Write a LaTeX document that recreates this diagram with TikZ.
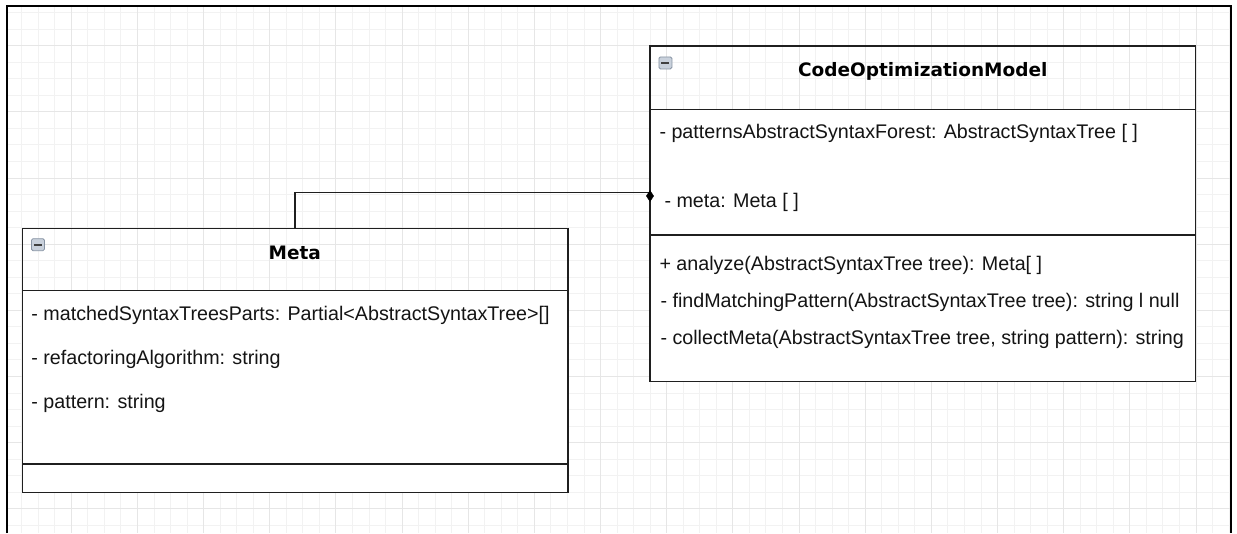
\documentclass[tikz,border=0pt]{standalone}
\usepackage{fontspec}
\setmainfont{Liberation Sans}
\newfontfamily\titlefont{DejaVu Sans}
\usetikzlibrary{shapes.geometric}
\definecolor{gridminor}{HTML}{F2F2F2}
\definecolor{gridmajor}{HTML}{E6E6E6}
\definecolor{boxline}{HTML}{1F1F1F}
\definecolor{txt}{HTML}{141414}
\definecolor{iconfill}{HTML}{C9D1DC}
\definecolor{iconline}{HTML}{8793A3}
\begin{document}
\begin{tikzpicture}[x=1pt,y=-1pt,
  section/.style={draw=boxline, line width=1.5pt, inner sep=0pt, outer sep=0pt, anchor=north west, minimum width=545.5pt},
  attr/.style={anchor=base west, inner sep=0pt, text=txt, font=\fontsize{19.7}{24}\selectfont},
  classtitle/.style={anchor=base, inner sep=0pt, text=black, font=\titlefont\bfseries\fontsize{18.5}{22}\selectfont},
  iconbox/.style={draw=iconline, fill=iconfill, line width=0.8pt, rounded corners=1.5pt, minimum width=13pt, minimum height=12pt, inner sep=0pt, anchor=north west},
  conn/.style={draw=boxline, line width=1.5pt},
  endmark/.style={diamond, fill=black, draw=black, inner sep=0pt, minimum width=7.5pt, minimum height=11pt}]
\useasboundingbox (0,0) rectangle (1237,533);
\fill[white] (0,0) rectangle (1237,533);
% grid
\foreach \i in {-3,...,70} {
  \draw[gridminor, line width=1pt] ({71.3+16.54*\i},6) -- ({71.3+16.54*\i},533);
}
\foreach \i in {-2,...,29} {
  \draw[gridminor, line width=1pt] (7,{45.7+16.54*\i}) -- (1231,{45.7+16.54*\i});
}
\foreach \i in {0,...,17} {
  \draw[gridmajor, line width=1pt] ({71.3+66.16*\i},6) -- ({71.3+66.16*\i},533);
}
\foreach \i in {0,...,7} {
  \draw[gridmajor, line width=1pt] (7,{45.7+66.16*\i}) -- (1231,{45.7+66.16*\i});
}
% frame
\draw[black, line width=2pt] (7,533) -- (7,5.7) -- (1231,5.7) -- (1231,533);

% Meta class
\node[section, minimum height=62.4pt] (metahead) at (22.3,228.3) {};
\node[section, fill=white, minimum height=173.3pt] (metaattr) at (22.3,290.7) {};
\node[section, fill=white, minimum height=28.7pt] (metaops) at (22.3,464) {};
\node[iconbox] (metaicon) at (31,238.3) {};
\draw[black!75, line width=1.6pt] (metaicon.center) +(-4,0) -- +(4,0);
\node[classtitle] (metatitle) at (294.8,259.3) {Meta};
\node[attr] (ma1) at (31.2,320) {- matchedSyntaxTreesParts: Partial<AbstractSyntaxTree>[]};
\node[attr] (ma2) at (31.2,364) {- refactoringAlgorithm: string};
\node[attr] (ma3) at (31.2,408) {- pattern: string};

% CodeOptimizationModel class
\node[section, minimum height=63.3pt] (comhead) at (650,46) {};
\node[section, fill=white, minimum height=125.7pt] (comattr) at (650,109.3) {};
\node[section, fill=white, minimum height=146.7pt] (comops) at (650,235) {};
\node[iconbox] (comicon) at (658.5,56.5) {};
\draw[black!75, line width=1.6pt] (comicon.center) +(-4,0) -- +(4,0);
\node[classtitle] (comtitle) at (922.7,76.5) {CodeOptimizationModel};
\node[attr] (ca1) at (659.3,138.3) {- patternsAbstractSyntaxForest: AbstractSyntaxTree [ ]};
\node[attr] (ca2) at (664.3,207.3) {- meta: Meta [ ]};
\node[attr] (co1) at (659.3,270.7) {+ analyze(AbstractSyntaxTree tree): Meta[ ]};
\node[attr] (co2) at (660.3,307.5) {- findMatchingPattern(AbstractSyntaxTree tree): string l null};
\node[attr] (co3) at (660.3,344.3) {- collectMeta(AbstractSyntaxTree tree, string pattern): string};

% connector
\coordinate (port) at (comattr.west |- 0,192.3);
\draw[conn] (metahead.north) |- (port);
\node[endmark] (dia) at (650,196) {};
\end{tikzpicture}
\end{document}
